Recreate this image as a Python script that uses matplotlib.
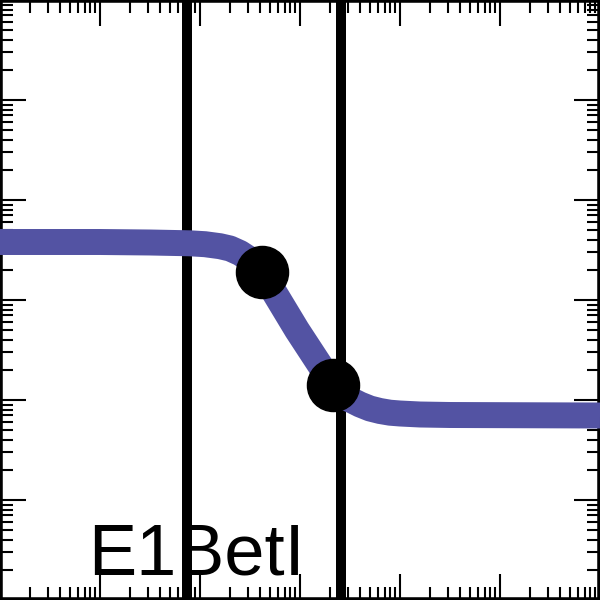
import numpy as np
import matplotlib.pyplot as plt
from matplotlib.ticker import LogLocator, NullFormatter

# curve (log10 units)
curve_logx = [0.00, 1.00, 1.50, 1.90, 2.05, 2.20, 2.30, 2.40, 2.50, 2.62,
              2.97, 3.33, 3.45, 3.60, 3.70, 3.80, 3.90, 4.00, 4.20, 4.50, 6.00]
curve_logy = [3.58, 3.58, 3.575, 3.567, 3.558, 3.538, 3.515, 3.47, 3.405, 3.28,
              2.70, 2.15, 2.03, 1.955, 1.915, 1.89, 1.873, 1.865, 1.855, 1.85, 1.845]

# measured points
point_logx = [2.617, 3.327]
point_logy = [3.283, 2.150]

# vertical reference lines
vline_logx = [1.867, 3.407]

label = "E1BetI"

curve_x = 10 ** np.array(curve_logx)
curve_y = 10 ** np.array(curve_logy)
point_x = 10 ** np.array(point_logx)
point_y = 10 ** np.array(point_logy)

fig = plt.figure(figsize=(6, 6), dpi=100)
ax = fig.add_axes([0, 0, 1, 1])
ax.set_xscale("log")
ax.set_yscale("log")
ax.set_xlim(1, 1e6)
ax.set_ylim(1, 1e6)

for v in vline_logx:
    ax.axvline(10 ** v, color="black", lw=7.2, zorder=2)

ax.plot(curve_x, curve_y, color="#5353a3", lw=18.7, solid_joinstyle="round",
        solid_capstyle="butt", zorder=3)
ax.plot(point_x, point_y, "o", color="black", ms=37.5, zorder=4)

for axis in (ax.xaxis, ax.yaxis):
    axis.set_major_locator(LogLocator(base=10, numticks=20))
    axis.set_minor_locator(LogLocator(base=10, subs=np.arange(2, 10), numticks=20))
    axis.set_major_formatter(NullFormatter())
    axis.set_minor_formatter(NullFormatter())

ax.tick_params(which="both", direction="in", top=True, right=True, color="black")
ax.tick_params(which="major", length=18.7, width=1.5)
ax.tick_params(which="minor", length=9.4, width=1.5)
for s in ax.spines.values():
    s.set_linewidth(4)

fig.text(0.147, 0.0417, label, fontsize=52, family=["Liberation Sans", "DejaVu Sans"],
         ha="left", va="baseline", color="black", zorder=5)

fig.savefig("out.png", dpi=100)
